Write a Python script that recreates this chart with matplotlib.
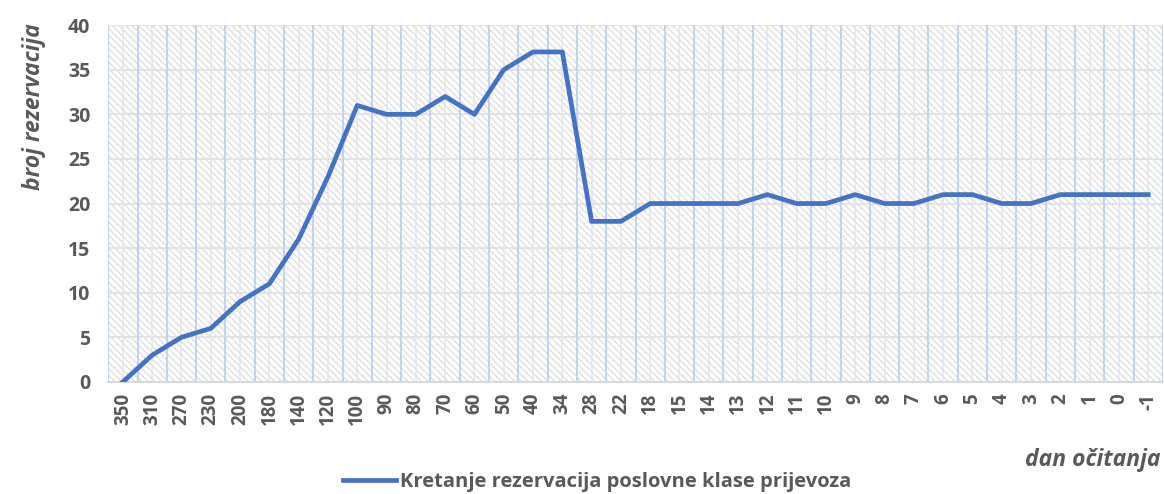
import matplotlib.pyplot as plt
import matplotlib.patches as mpatches
import numpy as np

plt.rcParams['font.family'] = ['Open Sans', 'DejaVu Sans']
plt.rcParams['hatch.linewidth'] = 1.0
plt.rcParams['hatch.color'] = '#E0E0E0'

days = ['350', '310', '270', '230', '200', '180', '140', '120', '100', '90', '80', '70',
        '60', '50', '40', '34', '28', '22', '18', '15', '14', '13', '12', '11', '10', '9',
        '8', '7', '6', '5', '4', '3', '2', '1', '0', '-1']
bookings = [0, 3, 5, 6, 9, 11, 16, 23, 31, 30, 30, 32, 30, 35, 37, 37, 18, 18, 20, 20,
            20, 20, 21, 20, 20, 21, 20, 20, 21, 21, 20, 20, 21, 21, 21, 21]

TEXT = '#595959'
LINE = '#4472C4'

fig = plt.figure(figsize=(11.64, 4.94), dpi=100)
ax = fig.add_axes([0.093, 0.227, 0.906, 0.722])

n = len(days)
x = np.arange(n)
ax.set_xlim(-0.5, n - 0.5)
ax.set_ylim(0, 40)

# hatched background
bg = mpatches.Rectangle((0, 0), 1, 1, transform=ax.transAxes, facecolor='white',
                        hatch='\\\\\\\\\\', edgecolor='#E0E0E0', linewidth=0, zorder=0)
ax.add_patch(bg)

# gridlines
for yv in range(5, 41, 5):
    ax.axhline(yv, color='#E3E3E3', lw=1.5, zorder=1)
for xv in x:
    ax.axvline(xv, color='#E6E6E6', lw=1.2, zorder=1)
for xv in np.arange(-0.5, n, 1.0):
    ax.axvline(xv, color='#C5D4EE', lw=1.5, zorder=1)

ax.plot(x, bookings, color=LINE, lw=3.4, zorder=3,
        label='Kretanje rezervacija poslovne klase prijevoza')

for s in ['top', 'right', 'left']:
    ax.spines[s].set_visible(False)
ax.spines['bottom'].set_color('#D9D9D9')
ax.spines['bottom'].set_linewidth(1.5)

ax.set_xticks(x)
ax.set_xticklabels(days, rotation=90, fontsize=13.5, fontweight='bold', color=TEXT)
ax.set_yticks(range(0, 41, 5))
ax.set_yticklabels([str(v) for v in range(0, 41, 5)], fontsize=14, fontweight='bold', color=TEXT)
ax.tick_params(axis='x', length=0, pad=8)
ax.tick_params(axis='y', length=0, pad=13)

fig.text(0.029, 0.785, 'broj rezervacija', rotation=90, ha='center', va='center',
         fontsize=16.5, fontweight='bold', fontstyle='italic', color=TEXT)
fig.text(0.997, 0.069, 'dan očitanja', ha='right', va='center', fontsize=16.5,
         fontweight='bold', fontstyle='italic', color=TEXT)

leg = fig.legend(loc='center', bbox_to_anchor=(0.513, 0.025), frameon=False,
                 prop={'size': 14.5, 'weight': 'bold'}, handlelength=2.6, handletextpad=0.2)
for t in leg.get_texts():
    t.set_color(TEXT)

fig.savefig('out.png', dpi=100)
